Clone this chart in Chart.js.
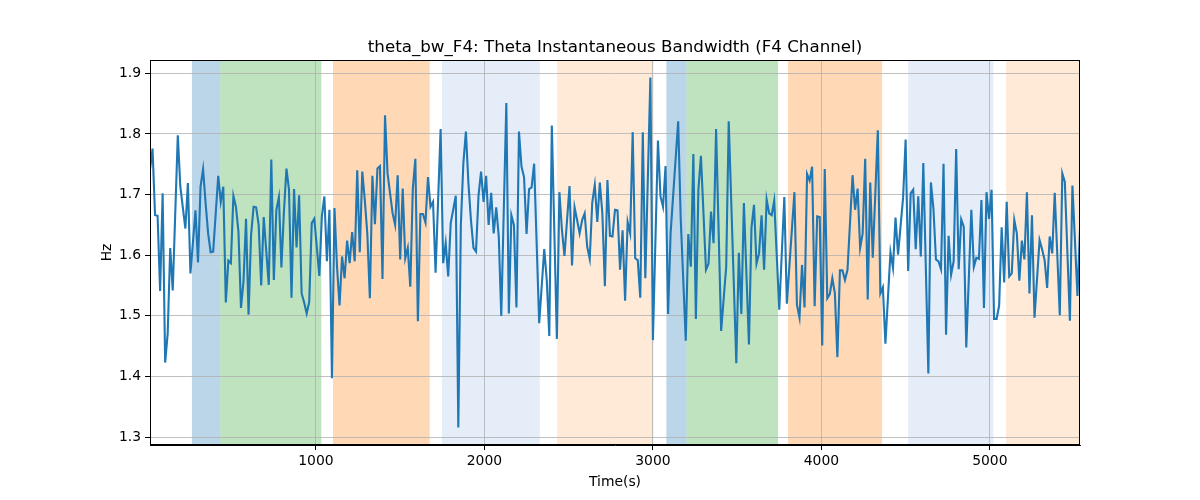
<!DOCTYPE html>
<html>
<head>
<meta charset="utf-8">
<script src="https://cdn.jsdelivr.net/npm/chart.js@4.4.1/dist/chart.umd.min.js"></script>
<style>
  html, body { margin: 0; padding: 0; background: #ffffff; }
  #wrap { width: 1200px; height: 500px; }
</style>
</head>
<body>
<div id="wrap"><canvas id="c" width="1200" height="500"></canvas></div>
<script>
// ---- data ----
const times = [15,30,45,60,75,90,105,120,135,150,180,195,225,240,255,285,300,315,330,345,360,375,390,420,435,450,465,480,495,510,525,540,555,570,585,600,615,630,645,660,675,690,720,735,750,765,780,795,810,825,840,855,870,885,900,915,930,945,960,975,990,1005,1020,1035,1050,1065,1080,1095,1110,1125,1140,1155,1170,1185,1200,1215,1230,1245,1260,1275,1290,1305,1320,1335,1350,1365,1380,1395,1410,1425,1455,1470,1485,1500,1515,1530,1545,1560,1575,1590,1605,1620,1635,1650,1665,1680,1695,1710,1740,1755,1770,1785,1800,1830,1845,1860,1875,1890,1905,1920,1935,1950,1965,1980,1995,2010,2025,2040,2055,2070,2085,2100,2130,2145,2160,2175,2190,2205,2220,2235,2250,2265,2280,2295,2325,2355,2370,2385,2400,2430,2445,2460,2475,2505,2520,2535,2550,2565,2580,2595,2610,2625,2640,2655,2670,2685,2700,2715,2730,2745,2760,2775,2790,2805,2820,2835,2850,2865,2880,2895,2910,2925,2940,2955,2985,3000,3030,3045,3060,3075,3090,3105,3150,3165,3195,3210,3225,3240,3255,3270,3285,3315,3330,3345,3360,3375,3405,3435,3450,3495,3510,3525,3540,3570,3585,3600,3615,3630,3645,3660,3675,3690,3705,3720,3750,3780,3795,3840,3855,3870,3885,3900,3915,3930,3945,3960,3975,3990,4005,4020,4035,4050,4065,4080,4095,4110,4125,4140,4155,4185,4200,4215,4230,4245,4260,4275,4290,4305,4335,4350,4365,4380,4410,4425,4440,4455,4485,4500,4515,4530,4545,4560,4575,4590,4605,4635,4650,4665,4680,4695,4710,4725,4740,4755,4770,4785,4800,4815,4830,4845,4860,4890,4905,4920,4935,4950,4965,4980,4995,5010,5025,5040,5055,5070,5085,5100,5115,5130,5145,5160,5175,5190,5205,5220,5235,5250,5265,5295,5310,5325,5340,5355,5370,5385,5415,5430,5445,5475,5490,5520,5535];
const bandwidth = [1.741,1.776,1.666,1.665,1.541,1.702,1.423,1.471,1.612,1.542,1.798,1.713,1.644,1.719,1.570,1.674,1.588,1.713,1.742,1.686,1.636,1.605,1.606,1.731,1.688,1.713,1.522,1.591,1.587,1.698,1.680,1.639,1.513,1.557,1.660,1.502,1.634,1.680,1.679,1.650,1.550,1.663,1.551,1.758,1.559,1.675,1.696,1.580,1.672,1.743,1.708,1.530,1.709,1.613,1.699,1.537,1.522,1.504,1.523,1.653,1.660,1.614,1.566,1.664,1.697,1.590,1.675,1.397,1.678,1.581,1.517,1.598,1.562,1.624,1.587,1.638,1.590,1.740,1.605,1.738,1.691,1.635,1.529,1.731,1.651,1.743,1.747,1.561,1.831,1.735,1.669,1.650,1.732,1.593,1.710,1.595,1.612,1.548,1.710,1.759,1.491,1.668,1.668,1.654,1.729,1.680,1.688,1.571,1.808,1.587,1.620,1.565,1.653,1.698,1.316,1.650,1.752,1.804,1.719,1.658,1.612,1.606,1.699,1.738,1.688,1.731,1.650,1.703,1.636,1.679,1.631,1.500,1.851,1.504,1.666,1.650,1.514,1.804,1.746,1.729,1.635,1.709,1.712,1.751,1.488,1.610,1.559,1.467,1.814,1.462,1.704,1.642,1.599,1.714,1.583,1.679,1.658,1.636,1.658,1.669,1.614,1.594,1.687,1.716,1.655,1.720,1.669,1.549,1.724,1.632,1.631,1.675,1.674,1.576,1.641,1.525,1.655,1.636,1.803,1.595,1.592,1.530,1.803,1.562,1.893,1.460,1.789,1.697,1.680,1.747,1.503,1.636,1.821,1.661,1.459,1.635,1.581,1.767,1.495,1.708,1.764,1.576,1.586,1.672,1.620,1.808,1.475,1.581,1.821,1.422,1.604,1.503,1.686,1.453,1.645,1.683,1.586,1.603,1.666,1.576,1.692,1.669,1.666,1.690,1.510,1.696,1.520,1.704,1.518,1.497,1.584,1.514,1.734,1.723,1.746,1.516,1.664,1.663,1.451,1.742,1.529,1.536,1.562,1.537,1.432,1.575,1.575,1.559,1.576,1.732,1.675,1.710,1.612,1.636,1.759,1.527,1.720,1.596,1.806,1.537,1.547,1.454,1.605,1.579,1.662,1.601,1.695,1.791,1.574,1.702,1.708,1.610,1.697,1.598,1.752,1.405,1.720,1.677,1.593,1.590,1.577,1.751,1.469,1.632,1.568,1.590,1.775,1.577,1.659,1.647,1.448,1.675,1.581,1.596,1.594,1.691,1.513,1.704,1.660,1.708,1.495,1.495,1.517,1.646,1.555,1.688,1.565,1.570,1.658,1.636,1.558,1.624,1.593,1.704,1.537,1.666,1.497,1.625,1.610,1.592,1.546,1.631,1.603,1.703,1.501,1.735,1.721,1.492,1.715,1.533,1.643];

// shaded intervals (seconds) and their kind
const bandStart = [264, 432, 1101, 1748, 2431, 3080, 3199, 3802, 4515, 5096];
const bandEnd   = [432, 1032, 1675, 2328, 3005, 3199, 3743, 4360, 5021, 5535];
const bandKind  = ['blue', 'green', 'orange', 'lightblue', 'lightorange', 'blue', 'green', 'orange', 'lightblue', 'lightorange'];

const xTicks = [1000, 2000, 3000, 4000, 5000];
const yTicks = [1.3, 1.4, 1.5, 1.6, 1.7, 1.8, 1.9];

const titleText = 'theta_bw_F4: Theta Instantaneous Bandwidth (F4 Channel)';
const xLabel = 'Time(s)';
const yLabel = 'Hz';

// ---- styles ----
const kindColor = {
  blue: 'rgba(31,119,180,0.3)',
  green: 'rgba(44,160,44,0.3)',
  orange: 'rgba(255,127,14,0.3)',
  lightblue: 'rgba(70,130,210,0.14)',
  lightorange: 'rgba(255,127,14,0.16)'
};
const FONT = '"DejaVu Sans", sans-serif';

const points = times.map((t, i) => ({ x: t, y: bandwidth[i] }));

const bandsPlugin = {
  id: 'bands',
  beforeDraw(chart) {
    const { ctx, chartArea: a, scales: { x } } = chart;
    ctx.save();
    for (let i = 0; i < bandStart.length; i++) {
      const x0 = x.getPixelForValue(bandStart[i]);
      const x1 = x.getPixelForValue(bandEnd[i]);
      ctx.fillStyle = kindColor[bandKind[i]];
      ctx.fillRect(x0, a.top, x1 - x0, a.bottom - a.top);
    }
    ctx.restore();
  },
  afterDraw(chart) {
    const { ctx, chartArea: a } = chart;
    ctx.save();
    ctx.strokeStyle = '#000';
    ctx.lineWidth = 1;
    ctx.strokeRect(Math.round(a.left) + 0.5, Math.round(a.top) + 0.5,
                   Math.round(a.right - a.left) - 1, Math.round(a.bottom - a.top) - 1);
    ctx.fillStyle = '#000';
    ctx.textAlign = 'center';
    ctx.textBaseline = 'alphabetic';
    ctx.font = '16.7px ' + FONT;
    ctx.fillText(titleText, (a.left + a.right) / 2, 52);
    ctx.font = '13.9px ' + FONT;
    ctx.fillText(xLabel, (a.left + a.right) / 2, 486);
    ctx.save();
    ctx.translate(111, (a.top + a.bottom) / 2);
    ctx.rotate(-Math.PI / 2);
    ctx.fillText(yLabel, 0, 0);
    ctx.restore();
    ctx.restore();
  }
};

new Chart(document.getElementById('c'), {
  type: 'line',
  data: {
    datasets: [{
      data: points,
      borderColor: '#1f77b4',
      borderWidth: 2.1,
      pointRadius: 0,
      tension: 0,
      fill: false
    }]
  },
  options: {
    responsive: false,
    animation: false,
    devicePixelRatio: 1,
    layout: { padding: { top: 60, right: 120, bottom: 0, left: 0 } },
    plugins: { legend: { display: false }, title: { display: false }, tooltip: { enabled: false } },
    scales: {
      x: {
        type: 'linear',
        min: times[0],
        max: times[times.length - 1],
        afterBuildTicks(s) { s.ticks = xTicks.map(v => ({ value: v })); },
        afterFit(s) { s.height = 55; },
        ticks: { color: '#000', font: { family: FONT, size: 13.9 }, padding: 3, maxRotation: 0,
                 callback: v => String(v) },
        grid: { color: '#b0b0b0', lineWidth: 0.8, tickColor: '#000', tickLength: 5, tickWidth: 1 },
        border: { display: true, color: '#000', width: 1 }
      },
      y: {
        type: 'linear',
        min: 1.287,
        max: 1.922,
        afterBuildTicks(s) { s.ticks = yTicks.map(v => ({ value: v })); },
        afterFit(s) { s.width = 150; },
        ticks: { color: '#000', font: { family: FONT, size: 13.9 }, padding: 4,
                 callback: v => Number(v).toFixed(1) },
        grid: { color: '#b0b0b0', lineWidth: 0.8, tickColor: '#000', tickLength: 5, tickWidth: 1 },
        border: { display: true, color: '#000', width: 1 }
      }
    }
  },
  plugins: [bandsPlugin]
});
</script>
</body>
</html>
